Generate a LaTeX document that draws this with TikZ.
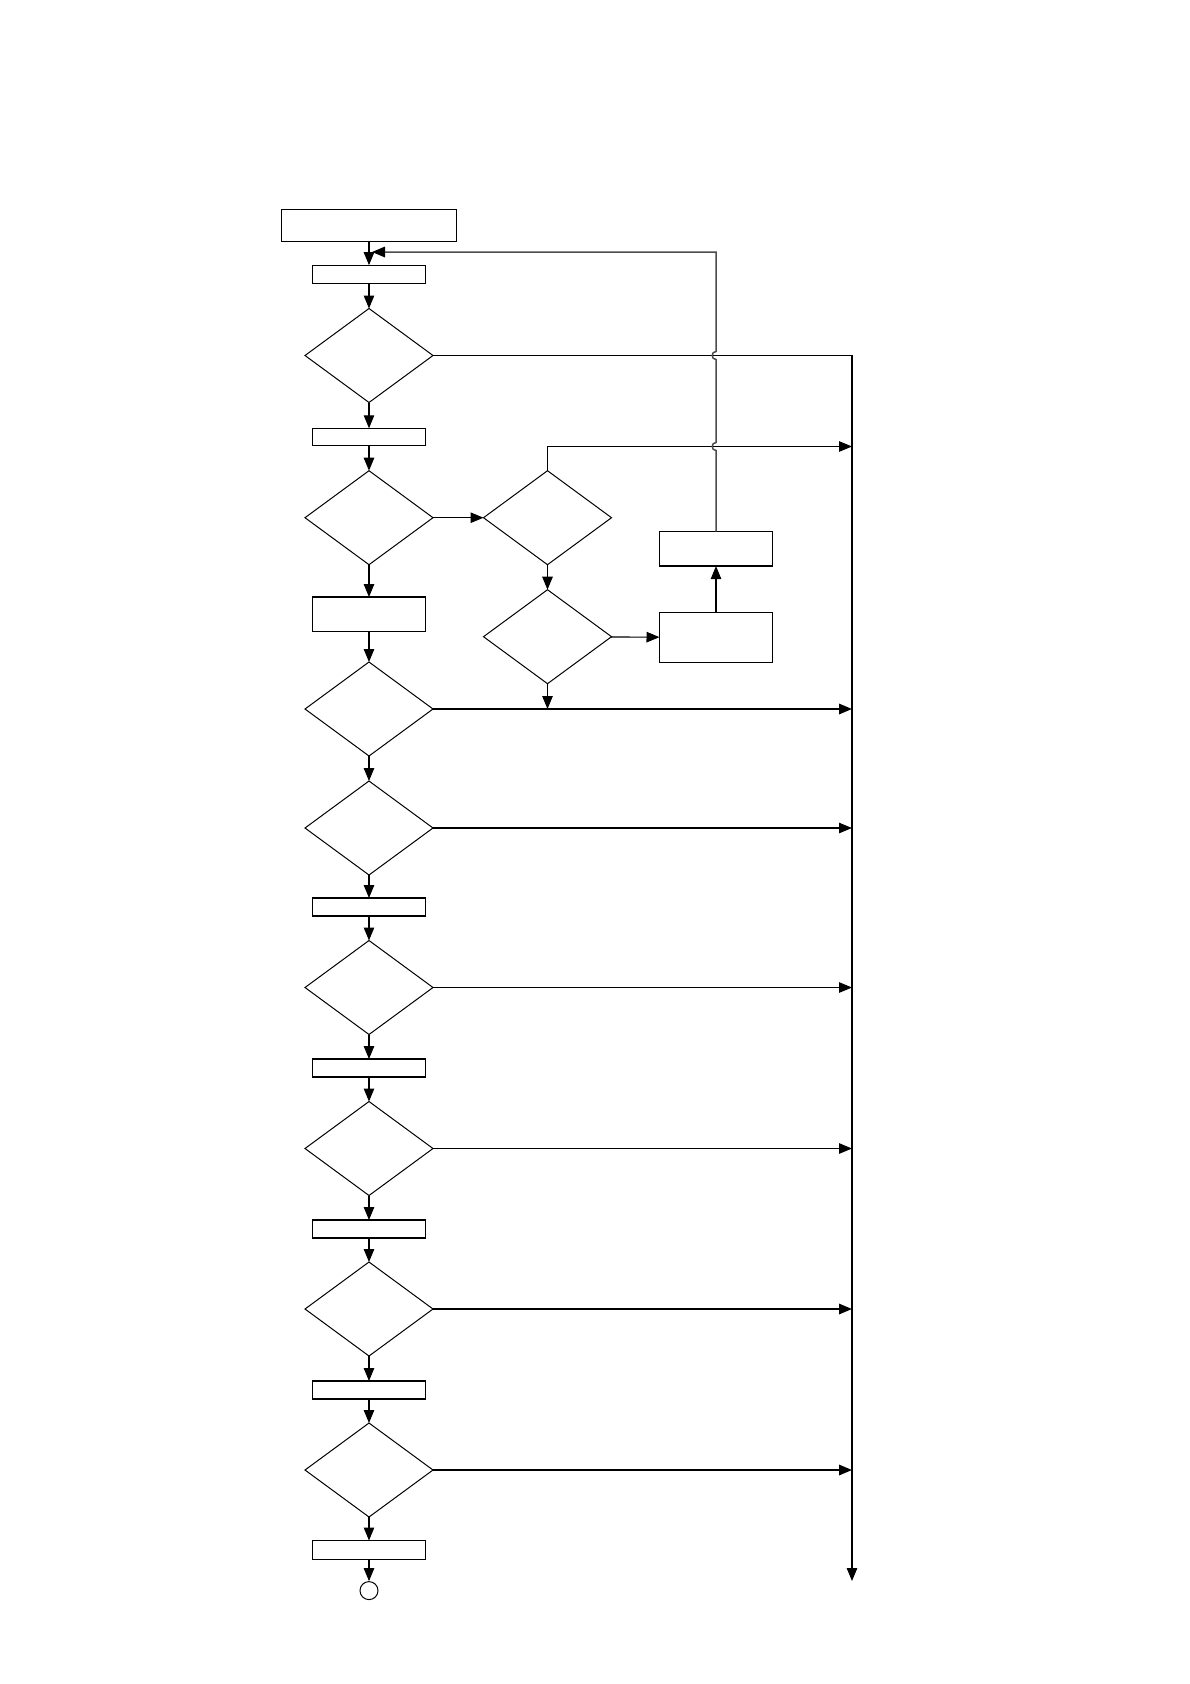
\documentclass[tikz,border=0pt]{standalone}
\usetikzlibrary{shapes.geometric,arrows.meta}
\begin{document}
\begin{tikzpicture}[x=1pt,y=-1pt,
 box/.style={draw,line width=1.2pt,minimum width=113pt,inner sep=0pt,outer sep=0pt},
 dia/.style={draw,diamond,line width=1pt,minimum width=128pt,minimum height=94pt,inner sep=0pt,outer sep=0pt},
 conn/.style={line width=1.1pt,-{Triangle[length=13pt,width=10.5pt]}},
 heavy/.style={line width=1.7pt,-{Triangle[length=13pt,width=10.5pt]}},
 loopline/.style={line width=1.5pt,draw=black!70,-{Triangle[length=13pt,width=10.5pt,color=black]}}]
\useasboundingbox (0,0) rectangle (1190,1684);
% main column
\node[box,minimum width=175pt,minimum height=32pt] (top) at (369,225.5) {};
\node[box,minimum height=18.5pt] (b1) at (369,274.4) {};
\node[dia] (d1) at (369,355.5) {};
\node[box,minimum height=17.5pt] (b2) at (369,437) {};
\node[dia] (d2) at (369,517.7) {};
\node[dia] (d3) at (547.5,517.7) {};
\node[box,minimum height=34.5pt] (b3) at (369,614.3) {};
\node[dia] (d4) at (547.5,636.7) {};
\node[box,minimum height=50.5pt] (r1) at (716,637.4) {};
\node[box,minimum height=34.5pt] (r2) at (716,548.8) {};
\node[dia] (d5) at (369,709) {};
\node[dia] (d6) at (369,828) {};
\node[box,minimum height=18pt] (b4) at (369,907) {};
\node[dia] (d7) at (369,987.5) {};
\node[box,minimum height=18pt] (b5) at (369,1068) {};
\node[dia] (d8) at (369,1148.5) {};
\node[box,minimum height=18pt] (b6) at (369,1229) {};
\node[dia] (d9) at (369,1309) {};
\node[box,minimum height=18pt] (b7) at (369,1390) {};
\node[dia] (d10) at (369,1470) {};
\node[box,minimum height=19pt] (b8) at (369,1550) {};
\node[draw,circle,minimum size=18pt,inner sep=0pt,line width=1pt] (end) at (369,1590.6) {};
% coordinates
\coordinate (rvtop) at (852,355.5);
\coordinate (rvbot) at (852,1581);
\coordinate (j3) at (852,446.5);
\coordinate (lp) at (716,252);
% main flow
\draw[conn] (top) -- (b1);
\draw[conn] (b1) -- (d1);
\draw[conn] (d1) -- (b2);
\draw[conn] (b2) -- (d2);
\draw[conn] (d2) -- (d3);
\draw[conn] (d2) -- (b3);
\draw[conn] (b3) -- (d5);
\draw[conn] (d3) -- (d4);
\draw[conn] (d4) -- (r1);
\draw[conn] (r1) -- (r2);
\draw[conn] (d4.south) -- (d4.south |- d5.east);
\draw[conn] (d5) -- (d6);
\draw[conn] (d6) -- (b4);
\draw[conn] (b4) -- (d7);
\draw[conn] (d7) -- (b5);
\draw[conn] (b5) -- (d8);
\draw[conn] (d8) -- (b6);
\draw[conn] (b6) -- (d9);
\draw[conn] (d9) -- (b7);
\draw[conn] (b7) -- (d10);
\draw[conn] (d10) -- (b8);
\draw[conn] (b8) -- (end);
% exits to the right
\draw[conn] (d1.east) -- (rvtop) -- (rvbot);
\draw[conn] (d3.north) -- (d3.north |- j3) -- (j3);
\draw[heavy] (d5.east) -- (d5.east -| rvtop);
\draw[conn] (d6.east) -- (d6.east -| rvtop);
\draw[conn] (d7.east) -- (d7.east -| rvtop);
\draw[conn] (d8.east) -- (d8.east -| rvtop);
\draw[heavy] (d9.east) -- (d9.east -| rvtop);
\draw[heavy] (d10.east) -- (d10.east -| rvtop);
% loop back with line jumps
\draw[loopline] (r2.north) -- (716,450.5) .. controls (711,450.5) and (711,442.5) .. (716,442.5)
  -- (716,359.5) .. controls (711,359.5) and (711,351.5) .. (716,351.5)
  -- (lp) -- ([xshift=3pt]b1.north |- lp);
\end{tikzpicture}
\end{document}
